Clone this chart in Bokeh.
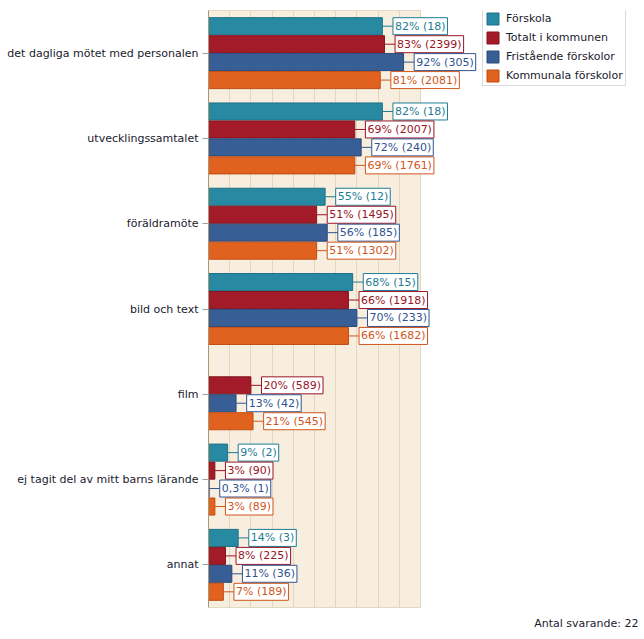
from bokeh.plotting import figure
from bokeh.models import (ColumnDataSource, Legend, LegendItem,
                          FactorRange, FixedTicker, Title, BoxAnnotation)
from bokeh.transform import dodge
from bokeh.embed import file_html
from bokeh.resources import INLINE
from bokeh.core.properties import value

categories = ["det dagliga mötet med personalen", "utvecklingssamtalet",
              "föräldramöte", "bild och text", "film",
              "ej tagit del av mitt barns lärande", "annat"]
series_names = ["Förskola", "Totalt i kommunen", "Fristående förskolor",
                "Kommunala förskolor"]
forskola_pct = [82, 82, 55, 68, 0, 9, 14]
forskola_n = [18, 18, 12, 15, 0, 2, 3]
totalt_pct = [83, 69, 51, 66, 20, 3, 8]
totalt_n = [2399, 2007, 1495, 1918, 589, 90, 225]
fristaende_pct = [92, 72, 56, 70, 13, 0.3, 11]
fristaende_n = [305, 240, 185, 233, 42, 1, 36]
kommunala_pct = [81, 69, 51, 66, 21, 3, 7]
kommunala_n = [2081, 1761, 1302, 1682, 545, 89, 189]
x_ticks = [0, 10, 20, 30, 40, 50, 60, 70, 80, 90, 100]
antal_svarande = 22

fills = ["#2889a2", "#a31a28", "#385e96", "#e1611e"]
lines = ["#1f7088", "#86121f", "#2a4a7a", "#c04c10"]
texts = ["#1e7c94", "#9a1424", "#2f5490", "#d0561a"]
offsets = [0.316, 0.105, -0.105, -0.316]
FONT = "DejaVu Sans"

p = figure(y_range=FactorRange(*reversed(categories), range_padding=0),
           x_range=(0, 204.7), width=644, height=639,
           min_border_left=208, min_border_top=10, min_border_right=2,
           min_border_bottom=32, output_backend="svg", toolbar_location=None)
p.background_fill_color = "white"
p.border_fill_color = "white"
p.outline_line_color = None
p.xaxis.visible = False
p.xgrid.ticker = FixedTicker(ticks=x_ticks)
p.xgrid.grid_line_color = "#e3d7bd"
p.ygrid.grid_line_color = None

p.add_layout(BoxAnnotation(left=0, right=100, fill_color="#f7eee0",
                           fill_alpha=1, line_color="#c8b890", line_alpha=1,
                           line_width=1, level="image"))

yax = p.yaxis[0]
yax.axis_line_color = "#a89878"
yax.major_tick_line_color = "#a0a0a0"
yax.major_tick_out = 6
yax.major_tick_in = 0
yax.minor_tick_line_color = None
yax.major_label_standoff = 4
yax.major_label_text_font = FONT
yax.major_label_text_font_size = "11px"
yax.major_label_text_color = "#1a1a2e"

def fmt(v):
    return ("%g" % v).replace(".", ",")

all_series = [(forskola_pct, forskola_n), (totalt_pct, totalt_n),
              (fristaende_pct, fristaende_n), (kommunala_pct, kommunala_n)]
gap = 5.0
items = []
for i, (pcts, ns) in enumerate(all_series):
    cats = [c for c, n in zip(categories, ns) if n > 0]
    vals = [v for v, n in zip(pcts, ns) if n > 0]
    cnts = [n for n in ns if n > 0]
    src = ColumnDataSource(dict(
        cat=cats, pct=vals, lx=[v + gap for v in vals],
        txt=["%s%% (%d)" % (fmt(v), n) for v, n in zip(vals, cnts)]))
    ycol = dodge("cat", offsets[i], range=p.y_range)
    r = p.hbar(y=ycol, left=0, right="pct", height=0.2, source=src,
               fill_color=fills[i], line_color=lines[i], line_width=1)
    p.segment(x0="pct", x1="lx", y0=ycol, y1=ycol, source=src,
              line_color=texts[i], line_width=1)
    p.text(x="lx", y=ycol, text="txt", source=src,
           text_font=value(FONT), text_font_size="11px",
           text_color=texts[i], text_baseline="middle",
           text_align="left", padding=2,
           background_fill_color="white",
           border_line_color=texts[i], border_line_width=1)
    items.append(LegendItem(label=series_names[i], renderers=[r]))

legend = Legend(items=items, location=(274, 521), orientation="vertical",
                glyph_width=15, glyph_height=15, label_standoff=6, spacing=4,
                padding=2, margin=0, border_line_color="#b8b8b8",
                label_text_font=FONT, label_text_font_size="11px",
                label_text_color="#1a1a2e", background_fill_color="white",
                label_height=15)
p.add_layout(legend, "center")

p.add_layout(Title(text="Antal svarande: %d" % antal_svarande, align="right",
                   text_font=FONT, text_font_size="11px",
                   text_font_style="normal", text_color="#1a1a2e",
                   offset=4, standoff=14), "below")

open("out.html", "w").write(file_html(p, INLINE))
